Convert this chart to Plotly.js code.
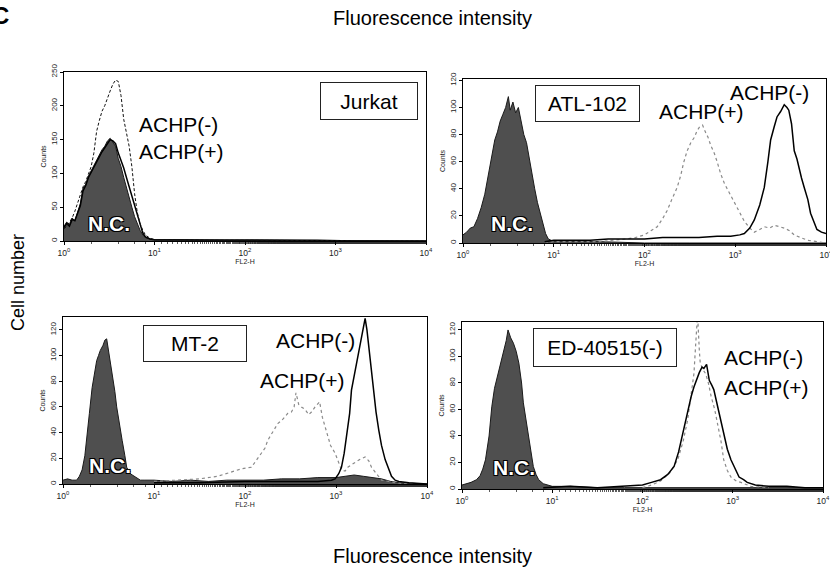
<!DOCTYPE html>
<html>
<head>
<meta charset="utf-8">
<script src="https://cdn.plot.ly/plotly-3.0.1.min.js"></script>
<style>html,body{margin:0;padding:0;background:#fff;}#chart{width:830px;height:578px;}</style>
</head>
<body>
<div id="chart"></div>
<script>
// ---------- tick labels ----------
const xTickVals = [1, 10, 100, 1000, 10000];
const xTickText = ['10<sup>0</sup>', '10<sup>1</sup>', '10<sup>2</sup>', '10<sup>3</sup>', '10<sup>4</sup>'];
const panelNames = ['Jurkat', 'ATL-102', 'MT-2', 'ED-40515(-)'];

// ---------- Jurkat (x in decades of FL2-H, y counts) ----------
const jurNcDec = [0,0.03,0.06,0.09,0.12,0.15,0.18,0.21,0.24,0.27,0.30,0.33,0.36,0.39,0.42,0.45,0.48,0.51,0.54,0.57,0.60,0.63,0.66,0.69,0.72,0.75,0.78,0.81,0.84,0.87,0.90,0.95,1.0,1.2,1.5,1.8,2.1,2.4,2.7,3.0,3.3,3.6,4.0];
const jurNcCnt = [22,28,24,34,30,42,55,78,84,96,104,112,118,126,135,140,148,152,146,140,122,110,94,78,62,50,36,26,16,9,5,3,2,2,1,1,1,1,1,1,0,0,0];
const jurPlusDec = [0,0.03,0.06,0.09,0.12,0.15,0.18,0.21,0.24,0.27,0.30,0.33,0.36,0.39,0.42,0.45,0.48,0.51,0.54,0.57,0.60,0.63,0.66,0.69,0.72,0.75,0.78,0.81,0.84,0.87,0.90,0.95,1.0,1.3,1.6,2.0,2.4,2.8,3.2,3.6,4.0];
const jurPlusCnt = [20,26,22,32,30,40,52,74,82,94,102,110,118,124,132,138,145,150,148,144,130,120,108,94,80,66,50,36,22,12,6,3,2,2,1,1,1,1,0,0,0];
const jurMinusDec = [0,0.03,0.06,0.09,0.12,0.15,0.18,0.21,0.24,0.27,0.30,0.33,0.36,0.39,0.42,0.45,0.48,0.51,0.54,0.57,0.60,0.63,0.66,0.69,0.72,0.75,0.78,0.81,0.84,0.87,0.90,0.95,1.0,1.3,1.6,2.0,2.4,2.8,3.2,3.6,4.0];
const jurMinusCnt = [18,22,28,34,44,56,70,80,88,98,110,130,162,178,192,200,212,222,232,238,236,215,180,160,140,110,70,42,26,16,9,4,2,2,1,1,1,1,1,0,0];

// ---------- ATL-102 ----------
const atlNcDec = [0,0.04,0.08,0.12,0.16,0.20,0.24,0.28,0.32,0.35,0.38,0.41,0.44,0.47,0.50,0.52,0.55,0.58,0.61,0.64,0.67,0.70,0.73,0.76,0.79,0.82,0.85,0.88,0.91,0.94,0.97,1.0,1.5,2.0,2.5,3.0,3.5,4.0];
const atlNcCnt = [6,8,11,12,18,26,36,50,64,76,82,90,95,100,108,98,104,96,100,90,80,74,62,51,40,30,22,13,7,3,2,1,1,0,0,0,0,0];
const atlPlusDec = [0.9,1.0,1.5,1.7,1.8,1.9,2.0,2.07,2.14,2.20,2.25,2.30,2.36,2.40,2.43,2.47,2.51,2.55,2.58,2.61,2.64,2.67,2.70,2.73,2.77,2.80,2.84,2.88,2.92,2.96,3.0,3.05,3.10,3.16,3.21,3.27,3.32,3.38,3.43,3.49,3.54,3.60,3.65,3.72,3.80,3.90,4.0];
const atlPlusCnt = [0,1,1,2,3,4,6,9,12,18,24,32,41,50,59,68,74,78,83,86,87,82,78,72,66,60,51,44,39,34,29,22,16,11,8,10,12,11,13,12,11,9,6,4,2,1,0];
const atlMinusDec = [0.9,1.0,1.2,1.4,1.6,1.8,2.0,2.2,2.4,2.6,2.8,2.95,3.05,3.10,3.16,3.21,3.27,3.32,3.36,3.39,3.43,3.46,3.50,3.54,3.57,3.59,3.62,3.65,3.68,3.70,3.73,3.76,3.80,3.83,3.87,3.90,3.95,4.0];
const atlMinusCnt = [1,2,2,2,3,3,3,4,4,4,5,5,6,7,11,17,28,41,60,76,86,93,97,102,100,98,88,68,62,56,48,41,32,22,15,10,8,7];

// ---------- MT-2 ----------
const mtNcDec = [0,0.05,0.10,0.15,0.18,0.21,0.24,0.26,0.29,0.32,0.35,0.37,0.39,0.41,0.44,0.46,0.48,0.50,0.52,0.54,0.57,0.59,0.62,0.65,0.68,0.70,0.74,0.78,0.82,0.85,0.90,1.0,1.2,1.4,1.6,1.8,2.0,2.2,2.4,2.6,2.8,3.0,3.1,3.2,3.3,3.4,3.5,3.6,3.7,4.0];
const mtNcCnt = [3,4,3,3,6,11,22,34,55,75,88,96,100,104,108,112,113,104,96,88,72,60,46,34,22,13,8,6,4,3,3,3,2,3,2,3,3,3,4,4,5,5,6,7,6,5,4,2,1,0];
const mtPlusDec = [1.0,1.3,1.5,1.7,1.8,1.88,1.97,2.07,2.12,2.18,2.22,2.25,2.30,2.36,2.41,2.47,2.51,2.54,2.56,2.59,2.62,2.66,2.70,2.73,2.77,2.80,2.82,2.85,2.90,2.94,2.99,3.03,3.06,3.10,3.13,3.17,3.21,3.26,3.32,3.36,3.39,3.44,3.50,3.58,3.65,3.80,4.0];
const mtPlusCnt = [2,3,4,6,8,10,12,13,18,24,28,34,40,47,50,55,56,60,71,62,60,58,54,56,60,63,64,52,39,30,24,17,11,10,13,15,17,19,21,18,13,8,3,2,1,0,0];
const mtMinusDec = [1.0,1.5,2.0,2.5,2.8,2.95,2.99,3.03,3.06,3.09,3.12,3.15,3.17,3.20,3.23,3.26,3.28,3.30,3.32,3.34,3.36,3.39,3.41,3.44,3.47,3.50,3.54,3.58,3.61,3.65,3.69,3.80,4.0];
const mtMinusCnt = [1,1,2,2,2,3,4,8,13,24,39,55,73,84,94,104,114,121,129,120,107,88,71,56,42,30,19,11,6,3,2,1,0];

// ---------- ED-40515(-) ----------
const edNcDec = [0,0.05,0.10,0.16,0.20,0.23,0.26,0.30,0.33,0.36,0.40,0.43,0.46,0.49,0.51,0.54,0.57,0.60,0.63,0.66,0.68,0.71,0.74,0.77,0.79,0.82,0.85,0.90,0.94,1.0,1.2,1.5,1.8,2.0,2.5,3.0,3.5,4.0];
const edNcCnt = [3,4,5,7,10,15,22,40,62,76,87,96,105,112,120,114,110,104,95,80,65,52,40,28,17,11,7,4,3,2,2,1,1,1,1,1,1,1];
const edMinusDec = [0.9,1.2,1.5,1.8,2.0,2.1,2.2,2.28,2.35,2.40,2.44,2.48,2.51,2.54,2.57,2.60,2.63,2.66,2.68,2.71,2.74,2.77,2.79,2.82,2.85,2.88,2.90,2.94,2.98,3.03,3.07,3.12,3.16,3.25,3.40,3.60,3.80,4.0];
const edMinusCnt = [1,2,1,2,3,5,7,11,17,28,40,52,62,70,77,83,88,92,91,94,82,78,75,66,57,48,40,30,22,14,9,7,5,3,2,2,1,1];
const edPlusDec = [2.0,2.1,2.2,2.3,2.39,2.45,2.50,2.54,2.57,2.59,2.61,2.63,2.64,2.67,2.70,2.73,2.76,2.80,2.83,2.87,2.90,2.94,2.98,3.04,3.09,3.20,3.40];
const edPlusCnt = [1,3,6,12,22,36,52,72,87,110,132,104,95,90,87,80,70,60,50,36,22,14,9,6,5,2,1];

// ---------- helpers ----------
const W = 830, H = 578;
const fx = p => p / W, fy = p => 1 - p / H;
const toFl = arr => arr.map(d => Math.pow(10, d));

const FONT = 'Liberation Sans, Arial, sans-serif';
const ncFill = '#4f4f4f';

function ncTrace(dec, cnt, ax) {
  return {x: toFl(dec), y: cnt, xaxis: 'x' + ax, yaxis: 'y' + ax, type: 'scatter', mode: 'lines',
    fill: 'tozeroy', fillcolor: ncFill, line: {color: '#1a1a1a', width: 1}, hoverinfo: 'skip'};
}
function lineTrace(dec, cnt, ax, style) {
  const lines = {
    solid: {color: '#000', width: 1.5},
    dash: {color: '#111', width: 1, dash: '3px,2px'},
    dot: {color: '#8a8a8a', width: 1.2, dash: 'dot'}
  };
  return {x: toFl(dec), y: cnt, xaxis: 'x' + ax, yaxis: 'y' + ax, type: 'scatter', mode: 'lines',
    line: lines[style], hoverinfo: 'skip'};
}

const data = [
  ncTrace(jurNcDec, jurNcCnt, ''), lineTrace(jurPlusDec, jurPlusCnt, '', 'solid'), lineTrace(jurMinusDec, jurMinusCnt, '', 'dash'),
  ncTrace(atlNcDec, atlNcCnt, '2'), lineTrace(atlPlusDec, atlPlusCnt, '2', 'dot'), lineTrace(atlMinusDec, atlMinusCnt, '2', 'solid'),
  ncTrace(mtNcDec, mtNcCnt, '3'), lineTrace(mtPlusDec, mtPlusCnt, '3', 'dot'), lineTrace(mtMinusDec, mtMinusCnt, '3', 'solid'),
  ncTrace(edNcDec, edNcCnt, '4'), lineTrace(edPlusDec, edPlusCnt, '4', 'dot'), lineTrace(edMinusDec, edMinusCnt, '4', 'solid')
];

function xAxis(x0, x1, yAnchor) {
  return {type: 'log', range: [0, 4], domain: [fx(x0), fx(x1)], anchor: yAnchor,
    tickvals: xTickVals, ticktext: xTickText, tickfont: {family: FONT, size: 8.5, color: '#222'},
    ticklabeloverflow: 'allow',
    ticks: 'outside', ticklen: 3, tickwidth: 1, tickcolor: '#000',
    minor: {ticks: 'outside', ticklen: 2, tickcolor: '#333', tickwidth: 0.8},
    showgrid: false, zeroline: false, showline: true, mirror: true, linecolor: '#000', linewidth: 1.3,
    title: {text: 'FL2-H', font: {family: FONT, size: 7, color: '#222'}, standoff: 0}};
}
function yAxis(y0, y1, top, dt, xAnchor) {
  return {range: [0, top], domain: [fy(y1), fy(y0)], anchor: xAnchor, dtick: dt, tickangle: -90,
    tickfont: {family: FONT, size: 8, color: '#222'}, ticks: 'outside', ticklen: 3, tickcolor: '#000',
    showgrid: false, zeroline: false, showline: true, mirror: true, linecolor: '#000', linewidth: 1.3,
    title: {text: 'Counts', font: {family: FONT, size: 7, color: '#222'}, standoff: 2}};
}

const ann = [];
function txt(t, x, y, size, opts) {
  ann.push(Object.assign({text: t, x: fx(x), y: fy(y), xref: 'paper', yref: 'paper', showarrow: false,
    xanchor: 'center', yanchor: 'middle', font: {family: FONT, size: size, color: '#000'}}, opts || {}));
}
function box(t, x0, y0, x1, y1) {
  ann.push({text: t, x: fx((x0 + x1) / 2), y: fy((y0 + y1) / 2), xref: 'paper', yref: 'paper', showarrow: false,
    xanchor: 'center', yanchor: 'middle', width: x1 - x0 - 2, height: y1 - y0 - 2, borderpad: 0,
    bordercolor: '#222', borderwidth: 1, bgcolor: '#fff', font: {family: FONT, size: 21, color: '#000'}});
}
const ncFont = {family: FONT, size: 21, color: '#fff', weight: 'bold',
  shadow: '1px 1px 0 #000, -1px -1px 0 #000, 1px -1px 0 #000, -1px 1px 0 #000'};
function nc(x, y) {
  ann.push({text: 'N.C.', x: fx(x), y: fy(y), xref: 'paper', yref: 'paper', showarrow: false,
    xanchor: 'center', yanchor: 'middle', font: ncFont});
}

// panel labels
box(panelNames[0], 320, 82, 418, 120);
box(panelNames[1], 535, 85, 640, 122);
box(panelNames[2], 143, 325, 247, 362);
box(panelNames[3], 533, 328, 677, 367);
// ACHP labels
txt('ACHP(-)', 178, 125, 21); txt('ACHP(+)', 181, 151, 21);
txt('ACHP(+)', 701, 112, 21); txt('ACHP(-)', 769, 92, 21);
txt('ACHP(-)', 315, 340, 21); txt('ACHP(+)', 302, 380, 21);
txt('ACHP(-)', 763, 357, 21); txt('ACHP(+)', 766, 387, 21);
nc(109, 223); nc(512, 224); nc(110, 465); nc(514, 467);
// global titles
txt('Fluorescence intensity', 432, 18, 20);
txt('Fluorescence intensity', 432, 556, 20);
txt('Cell number', 18, 283, 18, {textangle: -90});
txt('C', -10, 16, 24, {xanchor: 'left', font: {family: FONT, size: 24, color: '#000', weight: 'bold'}});

const layout = {
  width: W, height: H, margin: {l: 0, r: 0, t: 0, b: 0},
  paper_bgcolor: '#fff', plot_bgcolor: '#fff', showlegend: false,
  xaxis: xAxis(64, 426, 'y'), yaxis: yAxis(72, 241, 250, 50, 'x'),
  xaxis2: xAxis(463, 826, 'y2'), yaxis2: yAxis(79, 243, 121, 20, 'x2'),
  xaxis3: xAxis(63, 427, 'y3'), yaxis3: yAxis(317, 484, 130, 20, 'x3'),
  xaxis4: xAxis(462, 823, 'y4'), yaxis4: yAxis(322, 489, 126, 20, 'x4'),
  annotations: ann
};
Plotly.newPlot('chart', data, layout, {staticPlot: true, displayModeBar: false});
</script>
</body>
</html>
